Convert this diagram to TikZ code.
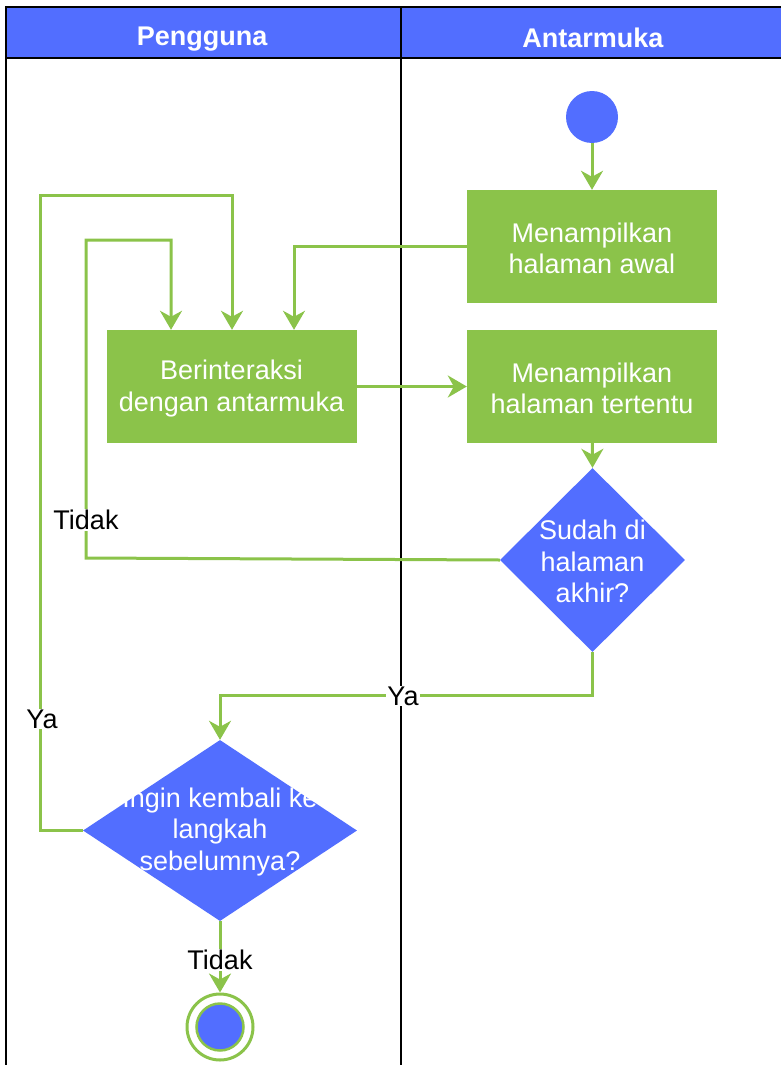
\documentclass[tikz,border=0pt]{standalone}
\usepackage{fontspec}
\setmainfont{Liberation Sans}
\usetikzlibrary{arrows.meta,shapes.geometric,calc}
\definecolor{laneblue}{RGB}{82,110,255}
\definecolor{actgreen}{RGB}{139,195,74}
\begin{document}
\begin{tikzpicture}[x=1pt,y=-1pt,
  txt/.style={font=\fontsize{27}{31.5}\selectfont},
  action/.style={rectangle,fill=actgreen,draw=none,
    minimum width=250pt,minimum height=113pt,inner sep=0pt},
  decision/.style={diamond,fill=laneblue,draw=none,inner sep=0pt,aspect=1},
  intext/.style={txt,text=white,align=center,inner sep=0pt},
  flow/.style={draw=actgreen,line width=3pt,
    -{Stealth[length=19pt,width=22pt,inset=6pt]}},
  guard/.style={txt,fill=white,text=black,inner sep=1pt},
  lane/.style={draw=black,line width=2pt},
  head/.style={font=\fontsize{27}{31.5}\selectfont\bfseries,text=white}]
\useasboundingbox (0,0) rectangle (780,1065);

% swimlane frame and headers
\fill[laneblue] (5.5,7) rectangle (785,58);
\draw[lane] (5.5,1075) -- (5.5,7) -- (785,7);
\draw[lane] (5.5,58) -- (785,58);
\draw[lane] (401,7) -- (401,1075);
\node[head] (h1) at (202,39.5) {Pengguna};
\node[head] (h2) at (593,38) {Antarmuka};

% start node
\node[circle,fill=laneblue,minimum size=52pt,inner sep=0pt] (start) at (592,117) {};

% actions
\node[action] (tampilawal) at (592,246.5) {};
\node[intext] at ([yshift=-2pt]tampilawal) {Menampilkan\\halaman awal};
\node[action] (tampilbagian) at (592,386.5) {};
\node[intext] at ([yshift=-2pt]tampilbagian) {Menampilkan\\halaman tertentu};
\node[action] (interaksi) at (231.5,386.5) {};
\node[intext] at ([yshift=-2pt]interaksi) {Berinteraksi\\dengan antarmuka};

% decisions
\node[decision,minimum width=185pt,minimum height=184pt] (akhir) at (592.5,560) {};
\node[intext] at ([yshift=-1.5pt]akhir) {Sudah di\\halaman\\akhir?};
\node[decision,minimum width=274pt,minimum height=181pt] (kembali) at (220,830.5) {};
\node[intext] at ([yshift=-1.5pt]kembali) {Ingin kembali ke\\langkah\\sebelumnya?};

% final node
\node[circle,draw=actgreen,line width=3pt,fill=white,minimum size=66pt,inner sep=0pt] (final) at (220,1027) {};
\node[circle,draw=actgreen,line width=2.5pt,fill=laneblue,minimum size=47pt,inner sep=0pt] (finalcore) at (final) {};

% flows
\draw[flow] (start) -- (tampilawal);
\draw[flow] (tampilawal.west) -| ([xshift=62.5pt]interaksi.north);
\draw[flow] (interaksi) -- (tampilbagian);
\draw[flow] (tampilbagian) -- (akhir.north);
\draw[flow] (akhir.west) -- (86,558) -- (86,240) -| ([xshift=-60.5pt]interaksi.north);
\draw[flow] (akhir.south) -- (592.5,695) -| (kembali.north);
\draw[flow] (kembali.west) -- (40,830.5) -- (40,195) -| ([xshift=0.5pt]interaksi.north);
\draw[flow] (kembali.south) -- (final.north);

% guards
\node[guard] (gtidak1) at (86,520) {Tidak};
\node[guard] (gya1) at (403,696) {Ya};
\node[guard] (gya2) at (42,719) {Ya};
\node[guard] (gtidak2) at (220,960) {Tidak};
\end{tikzpicture}
\end{document}
